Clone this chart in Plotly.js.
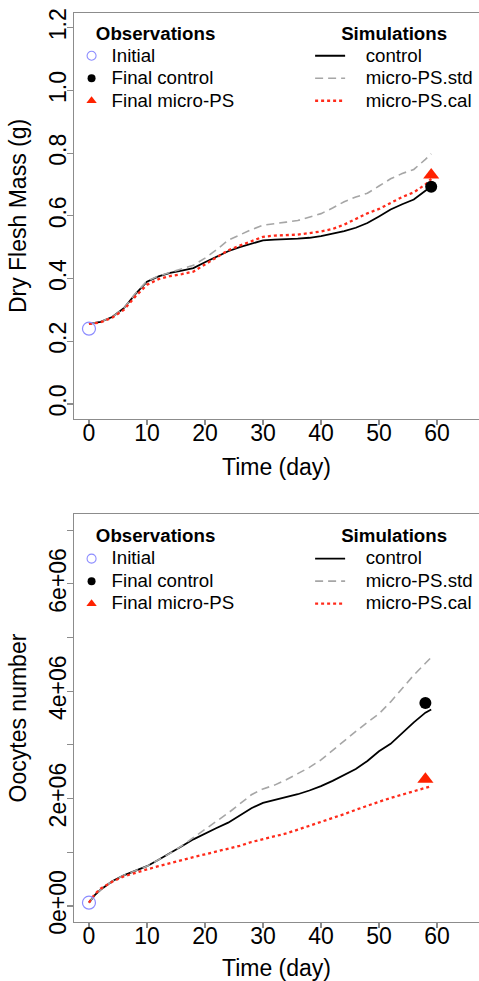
<!DOCTYPE html>
<html>
<head>
<meta charset="utf-8">
<script src="https://cdn.plot.ly/plotly-3.0.1.min.js"></script>
<style>html,body{margin:0;padding:0;background:#fff;}#chart{width:479px;height:981px;}</style>
</head>
<body>
<div id="chart"></div>
<script>
// ---------- Data: Dry flesh mass (g) ----------
const timeMass = [0, 2, 4, 6, 8, 10, 12, 14, 16, 18, 20, 22, 24, 26, 28, 30, 32, 34, 36, 38, 40, 42, 44, 46, 48, 50, 52, 54, 56, 58, 59];
const massControl = [0.255, 0.262, 0.277, 0.305, 0.350, 0.390, 0.407, 0.418, 0.425, 0.433, 0.452, 0.470, 0.487, 0.500, 0.511, 0.522, 0.524, 0.525, 0.527, 0.530, 0.535, 0.543, 0.551, 0.562, 0.577, 0.598, 0.620, 0.637, 0.652, 0.680, 0.693];
const massStd = [0.255, 0.262, 0.277, 0.305, 0.352, 0.392, 0.408, 0.420, 0.430, 0.442, 0.465, 0.492, 0.522, 0.540, 0.556, 0.570, 0.576, 0.580, 0.585, 0.595, 0.607, 0.625, 0.645, 0.660, 0.672, 0.695, 0.718, 0.735, 0.748, 0.780, 0.798];
const massCal = [0.255, 0.260, 0.275, 0.300, 0.343, 0.380, 0.398, 0.408, 0.414, 0.422, 0.445, 0.468, 0.490, 0.505, 0.520, 0.533, 0.537, 0.538, 0.540, 0.545, 0.550, 0.558, 0.572, 0.590, 0.608, 0.622, 0.642, 0.660, 0.675, 0.700, 0.718];
const massObsInitialT = [0];
const massObsInitial = [0.24];
const massObsFinalT = [59];
const massObsFinalControl = [0.693];
const massObsFinalMicroPS = [0.730];

// ---------- Data: Oocytes number ----------
const timeOoc = [0, 1, 2, 4, 6, 8, 10, 12, 14, 16, 18, 20, 22, 24, 26, 28, 30, 32, 34, 36, 38, 40, 42, 44, 46, 48, 50, 52, 54, 56, 58, 59];
const oocControl = [0.06e6, 0.20e6, 0.30e6, 0.46e6, 0.57e6, 0.65e6, 0.74e6, 0.86e6, 0.98e6, 1.11e6, 1.24e6, 1.35e6, 1.45e6, 1.55e6, 1.68e6, 1.82e6, 1.92e6, 1.97e6, 2.02e6, 2.08e6, 2.15e6, 2.23e6, 2.33e6, 2.44e6, 2.55e6, 2.70e6, 2.88e6, 3.02e6, 3.22e6, 3.42e6, 3.60e6, 3.66e6];
const oocStd = [0.06e6, 0.20e6, 0.30e6, 0.46e6, 0.57e6, 0.65e6, 0.74e6, 0.86e6, 0.98e6, 1.12e6, 1.27e6, 1.42e6, 1.57e6, 1.73e6, 1.90e6, 2.07e6, 2.18e6, 2.25e6, 2.35e6, 2.46e6, 2.58e6, 2.72e6, 2.90e6, 3.08e6, 3.25e6, 3.42e6, 3.58e6, 3.80e6, 4.05e6, 4.30e6, 4.52e6, 4.63e6];
const oocCal = [0.06e6, 0.22e6, 0.32e6, 0.45e6, 0.55e6, 0.62e6, 0.68e6, 0.74e6, 0.80e6, 0.86e6, 0.91e6, 0.96e6, 1.01e6, 1.06e6, 1.12e6, 1.19e6, 1.24e6, 1.29e6, 1.35e6, 1.42e6, 1.49e6, 1.56e6, 1.63e6, 1.71e6, 1.79e6, 1.87e6, 1.94e6, 2.01e6, 2.07e6, 2.13e6, 2.20e6, 2.23e6];
const oocObsInitialT = [0];
const oocObsInitial = [0.06e6];
const oocObsFinalT = [58];
const oocObsFinalControl = [3.78e6];
const oocObsFinalMicroPS = [2.36e6];

// ---------- Tick labels / legend labels ----------
const timeTicks = [0, 10, 20, 30, 40, 50, 60];
const massTicks = [0, 0.2, 0.4, 0.6, 0.8, 1.0, 1.2];
const oocTicks = [0, 1e6, 2e6, 3e6, 4e6, 5e6, 6e6, 7e6];
const oocTickText = ['0e+00', '', '2e+06', '', '4e+06', '', '6e+06', ''];
const obsNames = ['Initial', 'Final control', 'Final micro-PS'];
const simNames = ['control', 'micro-PS.std', 'micro-PS.cal'];
const obsTitle = 'Observations';
const simTitle = 'Simulations';

const FONT = 'Liberation Sans, Arial, Helvetica, sans-serif';
const AXIS_GREY = '#8c8c8c';
const LEG_SIZE = 18.7;

function legName(s, pad) {
  return '<span style="font-size:' + LEG_SIZE + 'px">' + (pad ? '\u00a0\u00a0\u00a0' : '') + s + '</span>';
}
function lineTrace(x, y, name, style, xa, ya, lg) {
  return {x: x, y: y, name: legName(name, true), type: 'scatter', mode: 'lines', xaxis: xa, yaxis: ya,
          legend: lg, line: style, hoverinfo: 'skip'};
}
function ptTrace(x, y, marker, xa, ya) {
  return {x: x, y: y, type: 'scatter', mode: 'markers', xaxis: xa, yaxis: ya,
          showlegend: false, marker: marker, hoverinfo: 'skip', cliponaxis: false};
}
function legendKey(name, marker, xa, ya, lg) {
  return {x: [null], y: [null], name: legName(name, false), type: 'scatter', mode: 'markers',
          xaxis: xa, yaxis: ya, legend: lg, marker: marker, hoverinfo: 'skip'};
}
const sControl = {color: '#000000', width: 1.8};
const sStd = {color: '#a6a6a6', width: 1.6, dash: '8px,5px'};
const sCal = {color: '#ff2a1a', width: 2.3, dash: 'dot'};
const mInit = {symbol: 'circle-open', size: 13, color: '#8c8cff', line: {width: 1.2, color: '#8c8cff'}};
const mCtrl = {symbol: 'circle', size: 12, color: '#000000'};
const mPS = {symbol: 'triangle-up', size: 14, color: '#ff2200'};
const kInit = {symbol: 'circle-open', size: 9, color: '#8c8cff', line: {width: 1.1, color: '#8c8cff'}};
const kCtrl = {symbol: 'circle', size: 8, color: '#000000'};
const kPS = {symbol: 'triangle-up', size: 9, color: '#ff2200'};

const data = [
  lineTrace(timeMass, massControl, simNames[0], sControl, 'x', 'y', 'legend2'),
  lineTrace(timeMass, massStd, simNames[1], sStd, 'x', 'y', 'legend2'),
  lineTrace(timeMass, massCal, simNames[2], sCal, 'x', 'y', 'legend2'),
  ptTrace(massObsInitialT, massObsInitial, mInit, 'x', 'y'),
  ptTrace(massObsFinalT, massObsFinalControl, mCtrl, 'x', 'y'),
  ptTrace(massObsFinalT, massObsFinalMicroPS, mPS, 'x', 'y'),
  legendKey(obsNames[0], kInit, 'x', 'y', 'legend'),
  legendKey(obsNames[1], kCtrl, 'x', 'y', 'legend'),
  legendKey(obsNames[2], kPS, 'x', 'y', 'legend'),

  lineTrace(timeOoc, oocControl, simNames[0], sControl, 'x2', 'y2', 'legend4'),
  lineTrace(timeOoc, oocStd, simNames[1], sStd, 'x2', 'y2', 'legend4'),
  lineTrace(timeOoc, oocCal, simNames[2], sCal, 'x2', 'y2', 'legend4'),
  ptTrace(oocObsInitialT, oocObsInitial, mInit, 'x2', 'y2'),
  ptTrace(oocObsFinalT, oocObsFinalControl, mCtrl, 'x2', 'y2'),
  ptTrace(oocObsFinalT, oocObsFinalMicroPS, mPS, 'x2', 'y2'),
  legendKey(obsNames[0], kInit, 'x2', 'y2', 'legend3'),
  legendKey(obsNames[1], kCtrl, 'x2', 'y2', 'legend3'),
  legendKey(obsNames[2], kPS, 'x2', 'y2', 'legend3')
];

const tickFont = {family: FONT, size: 23, color: '#000'};
const titleFont = {family: FONT, size: 23, color: '#000'};

function xAxis(anchor) {
  return {
    anchor: anchor, domain: [0, 1], range: [-2.58, 67.24],
    tickmode: 'array', tickvals: timeTicks, ticktext: timeTicks.map(String),
    showline: true, linecolor: AXIS_GREY, linewidth: 1.3, mirror: true,
    ticks: 'outside', ticklen: 5, tickwidth: 1.2, tickcolor: AXIS_GREY,
    ticklabelstandoff: -12,
    showgrid: false, zeroline: false, tickfont: tickFont,
    title: {text: 'Time (day)', font: titleFont, standoff: 14}
  };
}
function yAxis(anchor, domain, range, vals, text, title) {
  return {
    anchor: anchor, domain: domain, range: range,
    tickmode: 'array', tickvals: vals, ticktext: text, tickangle: -90,
    showline: true, linecolor: AXIS_GREY, linewidth: 1.3, mirror: false,
    ticks: 'outside', ticklen: 6, tickwidth: 1.2, tickcolor: AXIS_GREY,
    ticklabelstandoff: -8,
    showgrid: false, zeroline: false, tickfont: tickFont,
    title: {text: title, font: titleFont, standoff: 11}
  };
}

function legend(x, y, title) {
  return {
    x: x, y: y, xanchor: 'left', yanchor: 'top', xref: 'paper', yref: 'paper',
    bgcolor: 'rgba(0,0,0,0)', borderwidth: 0, itemclick: false,
    font: {family: FONT, size: 15, color: '#000'},
    title: {text: '<span style="font-size:' + LEG_SIZE + 'px">' + title + '</span>',
            font: {family: FONT, size: 22.5, color: '#000', weight: 'bold'}, side: 'top center'}
  };
}

const layout = {
  width: 479, height: 981,
  margin: {l: 74, r: 0, t: 13, b: 59, pad: 0},
  paper_bgcolor: '#fff', plot_bgcolor: '#fff',
  font: {family: FONT, color: '#000'},
  showlegend: true,
  xaxis: xAxis('y'),
  yaxis: yAxis('x', [0.5534, 1], [-0.048, 1.247], massTicks, massTicks.map(v => v.toFixed(1)), 'Dry Flesh Mass (g)'),
  xaxis2: xAxis('y2'),
  yaxis2: yAxis('x2', [0, 0.4488], [-0.3e6, 7.3e6], oocTicks, oocTickText, 'Oocytes number'),
  legend: legend(-0.006, 1.003, obsTitle),
  legend2: legend(0.583, 1.003, simTitle),
  legend3: legend(-0.006, 0.4498, obsTitle),
  legend4: legend(0.583, 0.4498, simTitle)
};

Plotly.newPlot('chart', data, layout, {displayModeBar: false, staticPlot: true});
</script>
</body>
</html>
